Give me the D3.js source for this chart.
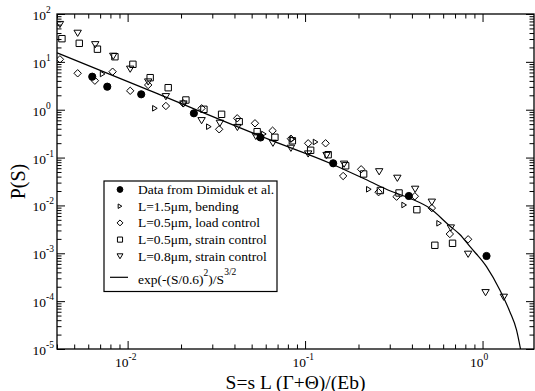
<!DOCTYPE html>
<html>
<head>
<meta charset="utf-8">
<script src="https://cdn.jsdelivr.net/npm/d3@7"></script>
<style>
  body { margin: 0; background: #fff; }
  text { font-family: "Liberation Serif", "Times New Roman", serif; fill: #000; }
</style>
</head>
<body>
<svg id="chart"></svg>
<script>
// Data: [S, P(S)]
const dimiduk = [[0.00632, 4.90], [0.00768, 3.03], [0.01193, 2.10], [0.02363, 0.842],
  [0.0561, 0.263], [0.144, 0.076], [0.3844, 0.01575], [1.053, 8.78e-4]];

const bending = [[0.00723, 5.58], [0.01425, 1.07], [0.0287, 0.442], [0.0586, 0.311],
  [0.085, 0.241], [0.1146, 0.2116], [0.2288, 0.02175], [0.3617, 0.01021], [0.5693, 0.004235]];

const loadControl = [[0.004155, 11.3], [0.00523, 5.77], [0.00654, 4.04], [0.00823, 6.23],
  [0.01034, 2.485], [0.01306, 3.285], [0.01643, 1.196], [0.02056, 1.362], [0.02611, 1.07],
  [0.0328, 0.39], [0.04145, 0.662], [0.0522, 0.5203], [0.0656, 0.3643], [0.0832, 0.248],
  [0.1041, 0.1988], [0.1305, 0.1988], [0.1639, 0.0412], [0.207, 0.0569], [0.2595, 0.0189],
  [0.3278, 0.01523], [0.4155, 0.01552], [0.518, 0.0088], [0.6542, 0.00253], [0.8296, 0.00196]];

const strain05 = [[0.004264, 30.5], [0.00534, 24.4], [0.00676, 18.4], [0.00848, 12.8],
  [0.01071, 8.89], [0.0134, 4.67], [0.01693, 2.885], [0.0213, 1.596], [0.02691, 1.02],
  [0.03385, 0.802], [0.04253, 0.562], [0.0537, 0.3473], [0.0676, 0.2653], [0.0848, 0.2242],
  [0.1075, 0.142], [0.1349, 0.1149], [0.1693, 0.0674], [0.2138, 0.0454], [0.2656, 0.02052],
  [0.3385, 0.0182], [0.4265, 0.00815], [0.5386, 0.00147], [0.6776, 0.001618]];

const strain08 = [[0.004155, 60.3], [0.00523, 39.5], [0.00657, 22.8], [0.0083, 13.07],
  [0.01034, 7.02], [0.01306, 3.795], [0.01643, 1.871], [0.02063, 1.317], [0.02611, 0.5898],
  [0.0331, 0.5203], [0.04155, 0.4251], [0.0528, 0.2757], [0.0659, 0.1988], [0.0832, 0.1563],
  [0.1041, 0.1188], [0.1322, 0.1105], [0.1659, 0.0727], [0.2616, 0.05045], [0.3311, 0.0369],
  [0.4172, 0.02175], [0.518, 0.01169], [0.6627, 0.003378], [0.8296, 9.53e-4], [1.04, 1.502e-4],
  [1.318, 1.204e-4]];

// fit curve exp(-(S/0.6)^2)/S^(3/2)
const fitS = [0.004, 0.01336, 0.0635, 0.1383, 0.2318, 0.3004, 0.3895, 0.5047, 0.6542,
  0.745, 0.848, 1.053, 1.252, 1.425, 1.554, 1.637];
const fitP = [15.5, 2.50, 0.234, 0.076, 0.03164, 0.02032, 0.0141, 0.00871, 0.00372,
  0.00247, 0.001387, 5.25e-4, 1.71e-4, 6.02e-5, 2.5e-5, 1e-5];

const xMajor = [0.01, 0.1, 1];
const xLabels = ["-2", "-1", "0"];
const yMajor = [1e-5, 1e-4, 1e-3, 1e-2, 1e-1, 1, 10, 100];
const yLabels = ["-5", "-4", "-3", "-2", "-1", "0", "1", "2"];

const legendNames = ["Data from Dimiduk et al.", "L=1.5\u03bcm, bending", "L=0.5\u03bcm, load control",
  "L=0.5\u03bcm, strain control", "L=0.8\u03bcm, strain control"];

const width = 535, height = 391;
const margin = { top: 14, right: 1, bottom: 42, left: 57 };

const svg = d3.select("#chart").attr("width", width).attr("height", height);

const x = d3.scaleLog().domain([0.004, 1.95]).range([margin.left, width - margin.right]);
const y = d3.scaleLog().domain([1e-5, 100]).range([height - margin.bottom, margin.top]);

// marker shapes, centred on 0,0
function markerPath(shape, k) {
  if (shape === "circle") return d3.arc()({ innerRadius: 0, outerRadius: 3.6 * k, startAngle: 0, endAngle: 2 * Math.PI });
  if (shape === "right") { const w = 4.6 * k, h = 5.6 * k; return `M${-w / 2},${-h / 2}L${w / 2},0L${-w / 2},${h / 2}Z`; }
  if (shape === "diamond") { const r = 3.7 * k; return `M0,${-r}L${r},0L0,${r}L${-r},0Z`; }
  if (shape === "square") { const a = 3.2 * k; return `M${-a},${-a}H${a}V${a}H${-a}Z`; }
  const w = 7.4 * k, h = 6.2 * k;
  return `M${-w / 2},${-h / 2}L${w / 2},${-h / 2}L0,${h / 2}Z`;
}

const series = [
  { data: dimiduk, shape: "circle", filled: true },
  { data: bending, shape: "right", filled: false },
  { data: loadControl, shape: "diamond", filled: false },
  { data: strain05, shape: "square", filled: false },
  { data: strain08, shape: "down", filled: false }
];

svg.append("clipPath").attr("id", "plotclip")
  .append("rect")
  .attr("x", x.range()[0]).attr("y", y.range()[1])
  .attr("width", x.range()[1] - x.range()[0])
  .attr("height", y.range()[0] - y.range()[1]);

// axes: ticks point inward on all four sides
const xMinor = x.ticks().filter((t) => !xMajor.some((m) => Math.abs(m - t) < 1e-12));
const yMinor = y.ticks().filter((t) => !yMajor.some((m) => Math.abs(m - t) / m < 1e-9));

function addAxis(maker, values, size, transform) {
  const g = svg.append("g").attr("transform", transform)
    .call(maker.tickValues(values).tickSize(size).tickSizeOuter(0).tickFormat(""));
  g.select(".domain").remove();
  g.selectAll("line").attr("stroke", "#000").attr("stroke-width", 1);
}

const bottomY = y.range()[0], topY = y.range()[1];
const leftX = x.range()[0], rightX = x.range()[1];

addAxis(d3.axisBottom(x), xMajor, -8, `translate(0,${bottomY})`);
addAxis(d3.axisBottom(x), xMinor, -4.5, `translate(0,${bottomY})`);
addAxis(d3.axisTop(x), xMajor, -8, `translate(0,${topY})`);
addAxis(d3.axisTop(x), xMinor, -4.5, `translate(0,${topY})`);
addAxis(d3.axisLeft(y), yMajor, -8, `translate(${leftX},0)`);
addAxis(d3.axisLeft(y), yMinor, -4.5, `translate(${leftX},0)`);
addAxis(d3.axisRight(y), yMajor, -8, `translate(${rightX},0)`);
addAxis(d3.axisRight(y), yMinor, -4.5, `translate(${rightX},0)`);

svg.append("rect")
  .attr("x", leftX).attr("y", topY)
  .attr("width", rightX - leftX).attr("height", bottomY - topY)
  .attr("fill", "none").attr("stroke", "#000").attr("stroke-width", 1.3);

// tick labels 10^n
xMajor.forEach((v, i) => {
  svg.append("text").attr("x", x(v) + 1).attr("y", 367)
    .attr("text-anchor", "end").attr("font-size", 13.5).text("10");
  svg.append("text").attr("x", x(v) + 1).attr("y", 360)
    .attr("text-anchor", "start").attr("font-size", 9.5).text(xLabels[i]);
});

yMajor.forEach((v, i) => {
  svg.append("text").attr("x", 32.5).attr("y", y(v) + 6)
    .attr("font-size", 13.5).text("10");
  svg.append("text").attr("x", 46).attr("y", y(v) - 1)
    .attr("font-size", 9.5).text(yLabels[i]);
});

// axis titles
svg.append("text")
  .attr("x", (leftX + rightX) / 2).attr("y", 388.5)
  .attr("text-anchor", "middle").attr("font-size", 19.5)
  .text("S=s L (\u0393+\u0398)/(Eb)");

svg.append("text")
  .attr("transform", `translate(25,${(topY + bottomY) / 2}) rotate(-90)`)
  .attr("text-anchor", "middle").attr("font-size", 20)
  .text("P(S)");

const plot = svg.append("g").attr("clip-path", "url(#plotclip)");

// fit line
const fit = fitS.map((s, i) => [s, fitP[i]]);
plot.append("path")
  .datum(fit)
  .attr("d", d3.line().x((d) => x(d[0])).y((d) => y(d[1])).curve(d3.curveMonotoneX))
  .attr("fill", "none").attr("stroke", "#000").attr("stroke-width", 1.2);

// data markers
series.forEach((s) => {
  plot.selectAll(null)
    .data(s.data)
    .enter()
    .append("path")
    .attr("transform", (d) => `translate(${x(d[0])},${y(d[1])})`)
    .attr("d", markerPath(s.shape, 1))
    .attr("fill", s.filled ? "#000" : "none")
    .attr("stroke", "#000")
    .attr("stroke-width", 1);
});

// legend
const legend = svg.append("g");
legend.append("rect")
  .attr("x", 104).attr("y", 181).attr("width", 173).attr("height", 110.5)
  .attr("fill", "#fff").attr("stroke", "#000").attr("stroke-width", 1.2);

const rowY = [189.5, 206.2, 222.9, 239.6, 256.3];
series.forEach((s, i) => {
  legend.append("path")
    .attr("transform", `translate(120,${rowY[i]})`)
    .attr("d", markerPath(s.shape, 0.8))
    .attr("fill", s.filled ? "#000" : "none")
    .attr("stroke", "#000").attr("stroke-width", 1);
  legend.append("text")
    .attr("x", 138).attr("y", rowY[i] + 4.5)
    .attr("font-size", 13.5)
    .text(legendNames[i]);
});

legend.append("line")
  .attr("x1", 110).attr("x2", 128).attr("y1", 277.3).attr("y2", 277.3)
  .attr("stroke", "#000").attr("stroke-width", 1.2);

const fitLabel = legend.append("text").attr("x", 138).attr("y", 283.5).attr("font-size", 13.5);
fitLabel.append("tspan").text("exp(-(S/0.6)");
fitLabel.append("tspan").attr("dy", -8).attr("font-size", 9.5).text("2");
fitLabel.append("tspan").attr("dy", 8).text(")/S");
fitLabel.append("tspan").attr("dy", -9).attr("font-size", 9.5).text("3/2");
</script>
</body>
</html>
